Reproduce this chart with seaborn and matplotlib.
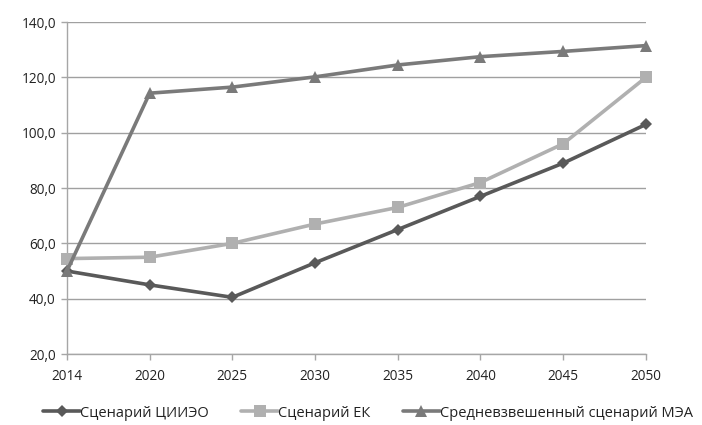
import matplotlib
matplotlib.use("Agg")
import matplotlib.pyplot as plt
import seaborn as sns
import pandas as pd

years = ["2014", "2020", "2025", "2030", "2035", "2040", "2045", "2050"]
series_names = ["Сценарий ЦИИЭО", "Сценарий ЕК", "Средневзвешенный сценарий МЭА"]
ciieo = [50.0, 45.0, 40.5, 53.0, 65.0, 77.0, 89.0, 103.0]
ek = [54.5, 55.0, 60.0, 67.0, 73.0, 82.0, 96.0, 120.0]
mea = [50.0, 114.3, 116.5, 120.2, 124.5, 127.5, 129.4, 131.5]
y_ticks = [20, 40, 60, 80, 100, 120, 140]

colors = ["#595959", "#b0b0b0", "#7a7a7a"]
markers = ["D", "s", "^"]
marker_sizes = [7, 9, 9]

sns.set_theme(style="white")
plt.rcParams["font.family"] = ["Open Sans", "DejaVu Sans"]

rows = []
for name, vals in zip(series_names, [ciieo, ek, mea]):
    for i, (yr, v) in enumerate(zip(years, vals)):
        rows.append({"pos": i, "year": yr, "value": v, "series": name})
df = pd.DataFrame(rows)

fig = plt.figure(figsize=(7.02, 4.25), dpi=100)
ax = fig.add_axes([0.0954, 0.167, 0.8246, 0.781])

for name, c, m, ms in zip(series_names, colors, markers, marker_sizes):
    sub = df[df["series"] == name]
    sns.lineplot(data=sub, x="pos", y="value", ax=ax, color=c, linewidth=2.6,
                 marker=m, markersize=ms, markeredgecolor=c, markeredgewidth=0,
                 label=name, clip_on=False, zorder=3)

ax.set_xlim(0, len(years) - 1)
ax.set_ylim(20, 140)
ax.set_xticks(range(len(years)))
ax.set_xticklabels(years)
ax.set_yticks(y_ticks)
ax.set_yticklabels([f"{t:.1f}".replace(".", ",") for t in y_ticks])
ax.set_xlabel("")
ax.set_ylabel("")

ax.grid(axis="y", color="#a0a0a0", linewidth=1.0)
ax.set_axisbelow(True)
for s in ["top", "right"]:
    ax.spines[s].set_visible(False)
for s in ["left", "bottom"]:
    ax.spines[s].set_color("#a6a6a6")
    ax.spines[s].set_linewidth(1.0)

ax.tick_params(axis="both", which="major", labelsize=9.8, colors="#a6a6a6",
               labelcolor="#222222", length=4, width=1, direction="out",
               left=True, bottom=True)
ax.tick_params(axis="x", pad=7)
ax.tick_params(axis="y", pad=4)

handles, labels = ax.get_legend_handles_labels()
ax.get_legend().remove()
for h, ms in zip(handles, [6, 8, 8]):
    h.set_markersize(ms)
leg = fig.legend(handles, labels, loc="center",
                 bbox_to_anchor=(0.524, 0.028), ncol=3, frameon=False,
                 fontsize=10.5, handlelength=2.55, handletextpad=0.0,
                 columnspacing=2.2, borderaxespad=0, borderpad=0)
for t in leg.get_texts():
    t.set_color("#222222")

fig.savefig("out.png", dpi=100)
